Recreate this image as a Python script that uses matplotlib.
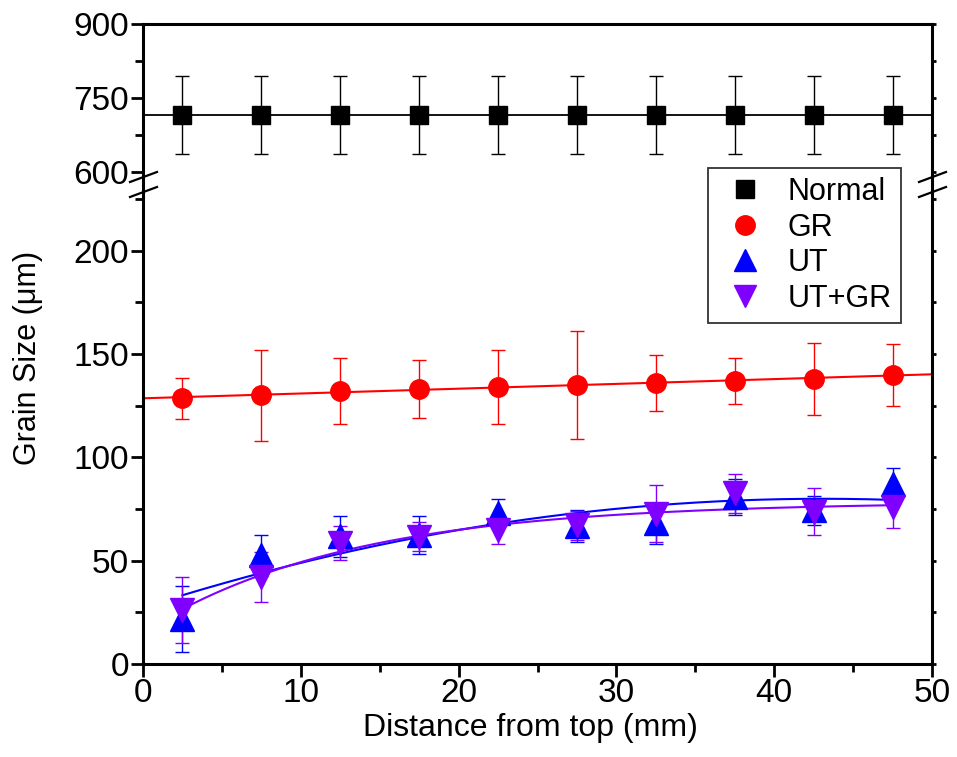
import numpy as np
import matplotlib
matplotlib.use('Agg')
import matplotlib.pyplot as plt
from matplotlib.lines import Line2D

plt.rcParams['font.family'] = ['Liberation Sans', 'DejaVu Sans']

# data
distance = [2.5, 7.5, 12.5, 17.5, 22.5, 27.5, 32.5, 37.5, 42.5, 47.5]
normal = [716] * 10
normal_err = [79] * 10
gr = [128.5, 130.1, 132.1, 132.9, 134.0, 135.0, 136.1, 136.9, 138.0, 139.8]
gr_err = [10, 22, 16, 14, 18, 26, 13.5, 11, 17.5, 15]
ut = [21.7, 52.5, 61.8, 62.4, 73.0, 66.8, 68.0, 80.7, 74.3, 87.0]
ut_err = [16, 10, 10, 9, 7, 7.7, 10, 8.7, 7, 8]
utgr = [26.3, 42.0, 58.5, 61.6, 65.0, 67.0, 72.7, 82.5, 73.7, 76.0]
utgr_err = [16, 12, 8.3, 7, 7, 7, 13.7, 9.3, 11.3, 10]

C_GR = '#FF0000'
C_UT = '#0000FF'
C_UTGR = '#8000FF'


def exp_fit(x, y):
    # y = a + b*exp(-x/t), t picked by a simple grid search
    x = np.asarray(x, float)
    y = np.asarray(y, float)
    best = None
    for t in np.linspace(3, 80, 400):
        A = np.column_stack([np.ones_like(x), np.exp(-x / t)])
        coef, _, _, _ = np.linalg.lstsq(A, y, rcond=None)
        r = np.sum((A @ coef - y) ** 2)
        if best is None or r < best[0]:
            best = (r, coef, t)
    _, (a, b), t = best
    return lambda xx: a + b * np.exp(-np.asarray(xx) / t)


W, H = 957, 757
fig = plt.figure(figsize=(W / 100, H / 100), dpi=100)

left = 143 / W
width = (932 - 143) / W
y_top, y_brk, y_bot = 24, 184, 664
ax_top = fig.add_axes([left, 1 - y_brk / H, width, (y_brk - y_top) / H])
ax = fig.add_axes([left, 1 - y_bot / H, width, (y_bot - y_brk) / H])

eb_kw = dict(elinewidth=1, capsize=4.7, capthick=1, linestyle='none')

# top panel: Normal
ax_top.axhline(normal[0], color='black', lw=1.3, zorder=1)
ax_top.errorbar(distance, normal, yerr=normal_err, fmt='s', color='black',
                ms=13.5, ecolor='black', **eb_kw)
ax_top.set_ylim(575.7, 900)
ax_top.set_yticks([600, 750, 900])
ax_top.set_yticks([675, 825], minor=True)

# lower panel
xfit = np.linspace(0, 50, 200)
p_gr = np.polyfit(distance, gr, 1)
ax.plot(xfit, np.polyval(p_gr, xfit), color=C_GR, lw=1.5, zorder=1)
xfit2 = np.linspace(distance[0], distance[-1], 200)
p_ut = np.polyfit(distance, ut, 2)
f_utgr = exp_fit(distance, utgr)
ax.plot(xfit2, np.polyval(p_ut, xfit2), color=C_UT, lw=1.5, zorder=1)
ax.plot(xfit2, f_utgr(xfit2), color=C_UTGR, lw=1.5, zorder=1)

ax.errorbar(distance, gr, yerr=gr_err, fmt='o', color=C_GR, ms=14,
            ecolor=C_GR, **eb_kw)
ax.errorbar(distance, ut, yerr=ut_err, fmt='^', color=C_UT, ms=17,
            ecolor=C_UT, **eb_kw)
ax.errorbar(distance, utgr, yerr=utgr_err, fmt='v', color=C_UTGR, ms=17,
            ecolor=C_UTGR, **eb_kw)

ax.set_ylim(0, 232.2)
ax.set_yticks([0, 50, 100, 150, 200])
ax.set_yticks([25, 75, 125, 175, 225], minor=True)

for a in (ax_top, ax):
    a.set_xlim(0, 50)
    for s in a.spines.values():
        s.set_linewidth(2.2)
    a.tick_params(axis='both', which='major', direction='out', length=9,
                  width=2, labelsize=24, pad=1)
    a.tick_params(axis='both', which='minor', direction='out', length=5.5,
                  width=2)
    a.tick_params(axis='y', which='both', right=True)
    # short marks on the right spine
    for tk in a.yaxis.get_major_ticks() + a.yaxis.get_minor_ticks():
        tk.tick2line.set_markersize(3)

ax_top.spines['bottom'].set_visible(False)
ax_top.tick_params(axis='x', which='both', bottom=False, labelbottom=False,
                   top=False)
ax.spines['top'].set_visible(False)
ax.set_xticks([0, 10, 20, 30, 40, 50])
ax.set_xticks([5, 15, 25, 35, 45], minor=True)
ax.tick_params(axis='x', which='both', top=False)

fig.text(530 / W, 1 - 736 / H, 'Distance from top (mm)', fontsize=23,
         ha='center', va='baseline')
fig.text(28 / W, 1 - 358 / H, 'Grain Size (\u03bcm)', fontsize=22,
         rotation=90, ha='center', va='center')

# break marks on both y spines
for xs in (143, 932):
    for dy in (0, 15):
        x0, x1 = xs - 13, xs + 14
        y0, y1 = 182 + dy, 172 + dy
        fig.add_artist(Line2D([x0 / W, x1 / W], [1 - y0 / H, 1 - y1 / H],
                              color='black', lw=1.6))

handles = [
    Line2D([], [], marker='s', color='black', ls='none', ms=12.5),
    Line2D([], [], marker='o', color=C_GR, ls='none', ms=14),
    Line2D([], [], marker='^', color=C_UT, ls='none', ms=16),
    Line2D([], [], marker='v', color=C_UTGR, ls='none', ms=16),
]
leg = fig.legend(handles, ['Normal', 'GR', 'UT', 'UT+GR'],
                 loc='upper left', bbox_to_anchor=(708 / W, 1 - 168 / H),
                 fontsize=22, frameon=True, fancybox=False, framealpha=1,
                 edgecolor='#333333', borderpad=0.3, labelspacing=0.18,
                 handletextpad=0.5, handlelength=1.8, borderaxespad=0)
leg.get_frame().set_linewidth(1.3)

fig.savefig('out.png', dpi=100)
